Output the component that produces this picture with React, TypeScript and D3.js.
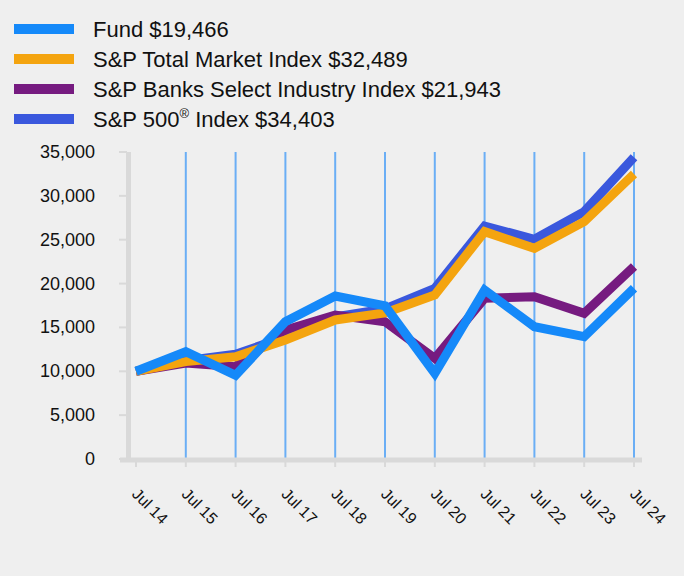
import React from "react";
import * as d3 from "d3";

const years = ["Jul 14", "Jul 15", "Jul 16", "Jul 17", "Jul 18", "Jul 19", "Jul 20", "Jul 21", "Jul 22", "Jul 23", "Jul 24"];
const fund = [10000, 12230, 9550, 15650, 18580, 17450, 9750, 19270, 15080, 13940, 19466];
const totalMarket = [10000, 11100, 11660, 13570, 15850, 16650, 18700, 25920, 24020, 27060, 32489];
const banks = [10000, 10940, 10520, 14700, 16400, 15650, 11480, 18320, 18500, 16610, 21943];
const sp500 = [10000, 11200, 11950, 13900, 16200, 17100, 19460, 26560, 25050, 28200, 34403];
const yTicks = [0, 5000, 10000, 15000, 20000, 25000, 30000, 35000];

const seriesNames = ["Fund $19,466", "S&P Total Market Index $32,489", "S&P Banks Select Industry Index $21,943", "S&P 500"];
const colors = ["#1589f9", "#f4a40f", "#761b80", "#3a58dd"];

export default function App() {
  const W = 684, H = 576;
  const x = d3.scalePoint<string>().domain(years).range([136, 634]);
  const y = d3.scaleLinear().domain([0, 35000]).range([459, 152]);
  const line = d3.line<number>().x((_, i) => x(years[i]) as number).y((d) => y(d));
  const series = [fund, totalMarket, banks, sp500];
  const drawOrder = [3, 2, 1, 0];
  const font = "'Liberation Sans', Arial, sans-serif";
  return (
    <svg width={W} height={H} style={{ position: "absolute", left: 0, top: 0, background: "#efefef" }} fontFamily={font}>
      <rect x={0} y={0} width={W} height={H} fill="#efefef" />
      {/* legend */}
      {seriesNames.map((n, i) => (
        <g key={n} transform={`translate(0, ${29 + i * 30})`}>
          <rect x={14} y={-5} width={60} height={10} fill={colors[i]} />
          {i < 3 ? (
            <text x={93} y={8} fontSize={22} fill="#111">{n}</text>
          ) : (
            <text x={93} y={8} fontSize={22} fill="#111">
              S&amp;P 500<tspan fontSize={13} dy={-9}>®</tspan><tspan dy={9}> Index $34,403</tspan>
            </text>
          )}
        </g>
      ))}
      {/* grid lines */}
      {years.slice(1).map((yr) => (
        <line key={yr} x1={x(yr)} x2={x(yr)} y1={152} y2={458} stroke="#6aaef5" strokeWidth={2} />
      ))}
      {/* axes */}
      <line x1={128.5} x2={128.5} y1={152} y2={462} stroke="#d9d9d9" strokeWidth={5} />
      <line x1={120} x2={642} y1={460} y2={460} stroke="#d9d9d9" strokeWidth={5} />
      {yTicks.map((t) => (
        <g key={t}>
          <line x1={119} x2={127} y1={y(t)} y2={y(t)} stroke="#d9d9d9" strokeWidth={2} />
          <text x={95} y={y(t) + 6} fontSize={18} textAnchor="end" fill="#111">{d3.format(",")(t)}</text>
        </g>
      ))}
      {years.map((yr) => (
        <g key={yr}>
          <line x1={x(yr)} x2={x(yr)} y1={462} y2={467} stroke="#d9d9d9" strokeWidth={2} />
          <text transform={`translate(${(x(yr) as number) - 5}, 495) rotate(45)`} fontSize={16} fill="#111">{yr}</text>
        </g>
      ))}
      {/* lines */}
      {drawOrder.map((i) => (
        <path key={i} d={line(series[i]) || ""} fill="none" stroke={colors[i]} strokeWidth={9} strokeLinejoin="miter" />
      ))}
    </svg>
  );
}
